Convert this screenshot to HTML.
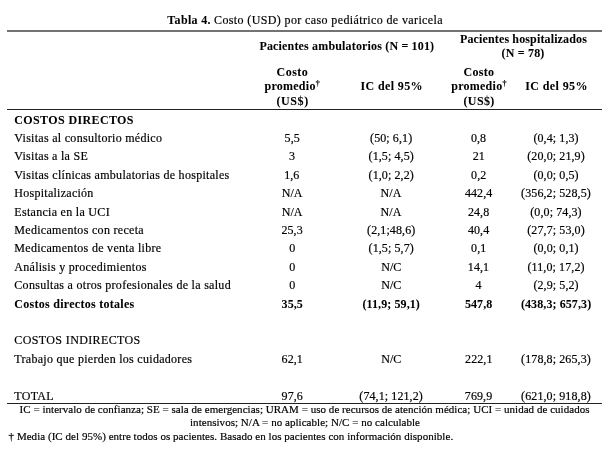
<!DOCTYPE html>
<html lang="es"><head><meta charset="utf-8"><title>Tabla 4. Costo (USD) por caso pediátrico de varicela</title>
<style>
html,body{margin:0;padding:0;background:#fff;}
body{width:611px;height:453px;position:relative;overflow:hidden;font-family:"Liberation Serif","Times New Roman",Times,serif;color:#000;font-size:12px;}
.t{position:absolute;white-space:nowrap;line-height:16px;height:16px;transform-origin:0 0;-webkit-text-stroke:0.18px #000;}
.b,.t b{font-weight:bold;-webkit-text-stroke:0.05px #000;}
.r{position:absolute;background:#222;}
sup{font-size:8px;line-height:0;vertical-align:4px;}

</style></head><body>
<div class="r" style="left:7px;top:30px;width:595px;height:2px;background:#737373"></div>
<div class="r" style="left:7px;top:109px;width:595px;height:1px;background:#222"></div>
<div class="r" style="left:7px;top:403px;width:595px;height:1px;background:#222"></div>
<div class="t b" style="left:167px;top:12px;transform:translate(0.35px,0.20px) rotate(0.005deg);letter-spacing:0.321px;">Tabla 4.</div>
<div class="t" style="left:214px;top:12px;transform:translate(0.00px,0.20px) rotate(0.005deg);letter-spacing:0.380px;">Costo (USD) por caso pediátrico de varicela</div>
<div class="t b" style="left:259px;top:38px;transform:translate(0.40px,0.00px) rotate(0.005deg);letter-spacing:0.167px;">Pacientes ambulatorios (N = 101)</div>
<div class="t b" style="left:460px;top:30px;transform:translate(0.00px,0.60px) rotate(0.005deg);letter-spacing:0.137px;">Pacientes hospitalizados</div>
<div class="t b" style="left:501px;top:45px;transform:translate(0.50px,0.00px) rotate(0.005deg);letter-spacing:0.193px;">(N = 78)</div>
<div class="t b" style="left:276px;top:64px;transform:translate(0.50px,0.00px) rotate(0.005deg);letter-spacing:0.506px;">Costo</div>
<div class="t b" style="left:264px;top:78px;transform:translate(0.50px,0.40px) rotate(0.005deg);letter-spacing:0.253px;">promedio<sup>†</sup></div>
<div class="t b" style="left:276px;top:93px;transform:translate(0.50px,0.20px) rotate(0.005deg);letter-spacing:0.596px;">(US$)</div>
<div class="t b" style="left:463px;top:64px;transform:translate(0.50px,0.00px) rotate(0.005deg);letter-spacing:0.281px;">Costo</div>
<div class="t b" style="left:451px;top:78px;transform:translate(0.25px,0.40px) rotate(0.005deg);letter-spacing:0.253px;">promedio<sup>†</sup></div>
<div class="t b" style="left:463px;top:93px;transform:translate(0.50px,0.20px) rotate(0.005deg);letter-spacing:0.371px;">(US$)</div>
<div class="t b" style="left:360px;top:78px;transform:translate(0.50px,0.40px) rotate(0.005deg);letter-spacing:0.375px;">IC del 95%</div>
<div class="t b" style="left:525px;top:78px;transform:translate(0.25px,0.40px) rotate(0.005deg);letter-spacing:0.400px;">IC del 95%</div>
<div class="t b" style="left:14px;top:111px;transform:translate(0.30px,0.65px) rotate(0.005deg);letter-spacing:0.376px;">COSTOS DIRECTOS</div>
<div class="t" style="left:14px;top:130px;transform:translate(0.30px,0.05px) rotate(0.005deg);letter-spacing:0.289px;">Visitas al consultorio médico</div>
<div class="t" style="left:284px;top:130px;transform:translate(0.55px,0.05px) rotate(0.005deg);letter-spacing:0.100px;">5,5</div>
<div class="t" style="left:370px;top:130px;transform:translate(0.03px,0.05px) rotate(0.005deg);letter-spacing:0.100px;">(50; 6,1)</div>
<div class="t" style="left:470px;top:130px;transform:translate(0.90px,0.05px) rotate(0.005deg);letter-spacing:0.100px;">0,8</div>
<div class="t" style="left:533px;top:130px;transform:translate(0.38px,0.05px) rotate(0.005deg);letter-spacing:0.100px;">(0,4; 1,3)</div>
<div class="t" style="left:14px;top:148px;transform:translate(0.30px,0.45px) rotate(0.005deg);letter-spacing:0.273px;">Visitas a la SE</div>
<div class="t" style="left:289px;top:148px;transform:translate(0.05px,0.45px) rotate(0.005deg);letter-spacing:0.100px;">3</div>
<div class="t" style="left:368px;top:148px;transform:translate(0.53px,0.45px) rotate(0.005deg);letter-spacing:0.100px;">(1,5; 4,5)</div>
<div class="t" style="left:472px;top:148px;transform:translate(0.65px,0.45px) rotate(0.005deg);letter-spacing:0.100px;">21</div>
<div class="t" style="left:527px;top:148px;transform:translate(0.25px,0.45px) rotate(0.005deg);letter-spacing:0.100px;">(20,0; 21,9)</div>
<div class="t" style="left:14px;top:166px;transform:translate(0.30px,0.85px) rotate(0.005deg);letter-spacing:0.295px;">Visitas clínicas ambulatorias de hospitales</div>
<div class="t" style="left:284px;top:166px;transform:translate(0.17px,0.85px) rotate(0.005deg);letter-spacing:0.100px;">1,6</div>
<div class="t" style="left:368px;top:166px;transform:translate(0.53px,0.85px) rotate(0.005deg);letter-spacing:0.100px;">(1,0; 2,2)</div>
<div class="t" style="left:471px;top:166px;transform:translate(0.03px,0.85px) rotate(0.005deg);letter-spacing:0.100px;">0,2</div>
<div class="t" style="left:533px;top:166px;transform:translate(0.38px,0.85px) rotate(0.005deg);letter-spacing:0.100px;">(0,0; 0,5)</div>
<div class="t" style="left:14px;top:185px;transform:translate(0.30px,0.25px) rotate(0.005deg);letter-spacing:0.267px;">Hospitalización</div>
<div class="t" style="left:281px;top:185px;transform:translate(0.67px,0.25px) rotate(0.005deg);letter-spacing:0.100px;">N/A</div>
<div class="t" style="left:380px;top:185px;transform:translate(0.53px,0.25px) rotate(0.005deg);letter-spacing:0.100px;">N/A</div>
<div class="t" style="left:464px;top:185px;transform:translate(0.90px,0.25px) rotate(0.005deg);letter-spacing:0.100px;">442,4</div>
<div class="t" style="left:521px;top:185px;transform:translate(0.12px,0.25px) rotate(0.005deg);letter-spacing:0.100px;">(356,2; 528,5)</div>
<div class="t" style="left:14px;top:203px;transform:translate(0.30px,0.65px) rotate(0.005deg);letter-spacing:0.296px;">Estancia en la UCI</div>
<div class="t" style="left:281px;top:203px;transform:translate(0.67px,0.65px) rotate(0.005deg);letter-spacing:0.100px;">N/A</div>
<div class="t" style="left:380px;top:203px;transform:translate(0.53px,0.65px) rotate(0.005deg);letter-spacing:0.100px;">N/A</div>
<div class="t" style="left:467px;top:203px;transform:translate(0.90px,0.65px) rotate(0.005deg);letter-spacing:0.100px;">24,8</div>
<div class="t" style="left:530px;top:203px;transform:translate(0.25px,0.65px) rotate(0.005deg);letter-spacing:0.100px;">(0,0; 74,3)</div>
<div class="t" style="left:14px;top:222px;transform:translate(0.30px,0.05px) rotate(0.005deg);letter-spacing:0.307px;">Medicamentos con receta</div>
<div class="t" style="left:281px;top:222px;transform:translate(0.42px,0.05px) rotate(0.005deg);letter-spacing:0.100px;">25,3</div>
<div class="t" style="left:367px;top:222px;transform:translate(0.03px,0.05px) rotate(0.005deg);letter-spacing:0.100px;">(2,1;48,6)</div>
<div class="t" style="left:467px;top:222px;transform:translate(0.90px,0.05px) rotate(0.005deg);letter-spacing:0.100px;">40,4</div>
<div class="t" style="left:527px;top:222px;transform:translate(0.25px,0.05px) rotate(0.005deg);letter-spacing:0.100px;">(27,7; 53,0)</div>
<div class="t" style="left:14px;top:240px;transform:translate(0.30px,0.45px) rotate(0.005deg);letter-spacing:0.303px;">Medicamentos de venta libre</div>
<div class="t" style="left:289px;top:240px;transform:translate(0.17px,0.45px) rotate(0.005deg);letter-spacing:0.100px;">0</div>
<div class="t" style="left:368px;top:240px;transform:translate(0.53px,0.45px) rotate(0.005deg);letter-spacing:0.100px;">(1,5; 5,7)</div>
<div class="t" style="left:471px;top:240px;transform:translate(0.03px,0.45px) rotate(0.005deg);letter-spacing:0.100px;">0,1</div>
<div class="t" style="left:533px;top:240px;transform:translate(0.38px,0.45px) rotate(0.005deg);letter-spacing:0.100px;">(0,0; 0,1)</div>
<div class="t" style="left:14px;top:258px;transform:translate(0.30px,0.85px) rotate(0.005deg);letter-spacing:0.281px;">Análisis y procedimientos</div>
<div class="t" style="left:289px;top:258px;transform:translate(0.17px,0.85px) rotate(0.005deg);letter-spacing:0.100px;">0</div>
<div class="t" style="left:381px;top:258px;transform:translate(0.15px,0.85px) rotate(0.005deg);letter-spacing:0.100px;">N/C</div>
<div class="t" style="left:467px;top:258px;transform:translate(0.78px,0.85px) rotate(0.005deg);letter-spacing:0.100px;">14,1</div>
<div class="t" style="left:527px;top:258px;transform:translate(0.50px,0.85px) rotate(0.005deg);letter-spacing:0.100px;">(11,0; 17,2)</div>
<div class="t" style="left:14px;top:277px;transform:translate(0.30px,0.25px) rotate(0.005deg);letter-spacing:0.295px;">Consultas a otros profesionales de la salud</div>
<div class="t" style="left:289px;top:277px;transform:translate(0.17px,0.25px) rotate(0.005deg);letter-spacing:0.100px;">0</div>
<div class="t" style="left:381px;top:277px;transform:translate(0.15px,0.25px) rotate(0.005deg);letter-spacing:0.100px;">N/C</div>
<div class="t" style="left:475px;top:277px;transform:translate(0.53px,0.25px) rotate(0.005deg);letter-spacing:0.100px;">4</div>
<div class="t" style="left:533px;top:277px;transform:translate(0.38px,0.25px) rotate(0.005deg);letter-spacing:0.100px;">(2,9; 5,2)</div>
<div class="t b" style="left:14px;top:295px;transform:translate(0.30px,0.65px) rotate(0.005deg);letter-spacing:0.280px;">Costos directos totales</div>
<div class="t b" style="left:281px;top:295px;transform:translate(0.55px,0.65px) rotate(0.005deg);letter-spacing:0.100px;">35,5</div>
<div class="t b" style="left:362px;top:295px;transform:translate(0.40px,0.65px) rotate(0.005deg);letter-spacing:0.100px;">(11,9; 59,1)</div>
<div class="t b" style="left:464px;top:295px;transform:translate(0.90px,0.65px) rotate(0.005deg);letter-spacing:0.100px;">547,8</div>
<div class="t b" style="left:520px;top:295px;transform:translate(0.88px,0.65px) rotate(0.005deg);letter-spacing:0.100px;">(438,3; 657,3)</div>
<div class="t" style="left:14px;top:332px;transform:translate(0.30px,0.45px) rotate(0.005deg);letter-spacing:0.380px;">COSTOS INDIRECTOS</div>
<div class="t" style="left:14px;top:350px;transform:translate(0.30px,0.85px) rotate(0.005deg);letter-spacing:0.286px;">Trabajo que pierden los cuidadores</div>
<div class="t" style="left:281px;top:350px;transform:translate(0.55px,0.85px) rotate(0.005deg);letter-spacing:0.100px;">62,1</div>
<div class="t" style="left:381px;top:350px;transform:translate(0.15px,0.85px) rotate(0.005deg);letter-spacing:0.100px;">N/C</div>
<div class="t" style="left:465px;top:350px;transform:translate(0.03px,0.85px) rotate(0.005deg);letter-spacing:0.100px;">222,1</div>
<div class="t" style="left:521px;top:350px;transform:translate(0.12px,0.85px) rotate(0.005deg);letter-spacing:0.100px;">(178,8; 265,3)</div>
<div class="t" style="left:14px;top:387px;transform:translate(0.30px,0.65px) rotate(0.005deg);letter-spacing:0.300px;">TOTAL</div>
<div class="t" style="left:281px;top:387px;transform:translate(0.55px,0.65px) rotate(0.005deg);letter-spacing:0.100px;">97,6</div>
<div class="t" style="left:359px;top:387px;transform:translate(0.28px,0.65px) rotate(0.005deg);letter-spacing:0.100px;">(74,1; 121,2)</div>
<div class="t" style="left:464px;top:387px;transform:translate(0.78px,0.65px) rotate(0.005deg);letter-spacing:0.100px;">769,9</div>
<div class="t" style="left:521px;top:387px;transform:translate(0.12px,0.65px) rotate(0.005deg);letter-spacing:0.100px;">(621,0; 918,8)</div>
<div class="t" style="left:19px;top:401px;transform:translate(0.60px,0.20px) rotate(0.005deg);font-size:11px;letter-spacing:0.033px;">IC = intervalo de confianza; SE = sala de emergencias; URAM = uso de recursos de atención médica; UCI = unidad de cuidados</div>
<div class="t" style="left:190px;top:414px;transform:translate(0.00px,0.00px) rotate(0.005deg);font-size:11px;letter-spacing:0.038px;">intensivos; N/A = no aplicable; N/C = no calculable</div>
<div class="t" style="left:8px;top:427px;transform:translate(0.55px,0.60px) rotate(0.005deg);font-size:11px;letter-spacing:0.039px;">† Media (IC del 95%) entre todos os pacientes. Basado en los pacientes con información disponible.</div>
</body></html>
